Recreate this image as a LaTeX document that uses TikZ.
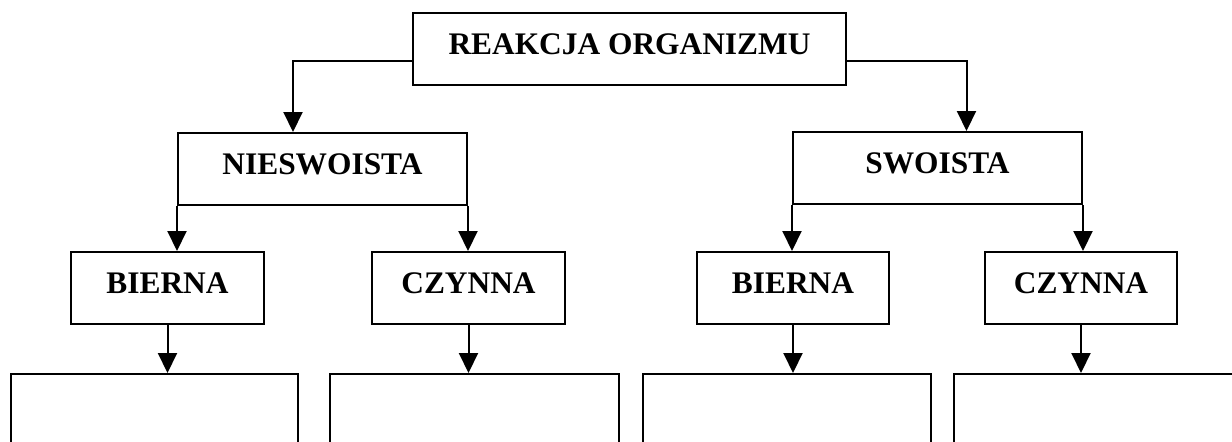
\documentclass[tikz,border=0pt]{standalone}
\usepackage{fontspec}
\setmainfont{Liberation Serif}
\usetikzlibrary{arrows.meta}
\begin{document}
\begin{tikzpicture}[x=0.5pt,y=-0.5pt,
    box/.style={draw,line width=1pt,inner sep=0pt,minimum height=36pt,
        font=\fontsize{15.7}{18}\selectfont\bfseries,text height=20.5pt,text depth=15.5pt},
    slot/.style={draw,line width=1pt,inner sep=0pt,minimum height=100pt,anchor=north},
    arr/.style={line width=1pt,-{Triangle[length=10pt,width=9.5pt]}}]
    \useasboundingbox (0,0) rectangle (1232,441);
    \clip (0,0) rectangle (1232,441);
    \node[box,minimum width=216.5pt] (top) at (629.5,49) {REAKCJA ORGANIZMU};
    \node[box,minimum width=144.5pt] (nies) at (322.5,169) {NIESWOISTA};
    \node[box,minimum width=144.5pt] (swo) at (937.5,168) {SWOISTA};
    \node[box,minimum width=96.5pt] (bier1) at (167.5,288) {BIERNA};
    \node[box,minimum width=96.5pt] (czyn1) at (468.5,288) {CZYNNA\hspace{8pt}};
    \node[box,minimum width=96pt] (bier2) at (793,288) {BIERNA};
    \node[box,minimum width=96pt] (czyn2) at (1081,288) {CZYNNA\hspace{8pt}};
    \node[slot,minimum width=143.5pt] (out1) at (154.5,373) {};
    \node[slot,minimum width=144.5pt] (out2) at (474.5,373) {};
    \node[slot,minimum width=144pt] (out3) at (787,373) {};
    \node[slot,minimum width=144pt] (out4) at (1098,373) {};
    \coordinate (lev) at (0,61);

    \draw[arr] (top.west |- lev) -| ([xshift=-14.75pt]nies.north);
    \draw[arr] (top.east |- lev) -| ([xshift=14.5pt]swo.north);
    \draw[arr] (nies.south west) -- (nies.south west |- bier1.north);
    \draw[arr] (nies.south east) -- (nies.south east |- czyn1.north);
    \draw[arr] (swo.south west) -- (swo.south west |- bier2.north);
    \draw[arr] (swo.south east) -- (swo.south east |- czyn2.north);
    \draw[arr] (bier1.south) -- (bier1.south |- out1.north);
    \draw[arr] (czyn1.south) -- (czyn1.south |- out2.north);
    \draw[arr] (bier2.south) -- (bier2.south |- out3.north);
    \draw[arr] (czyn2.south) -- (czyn2.south |- out4.north);
\end{tikzpicture}
\end{document}
